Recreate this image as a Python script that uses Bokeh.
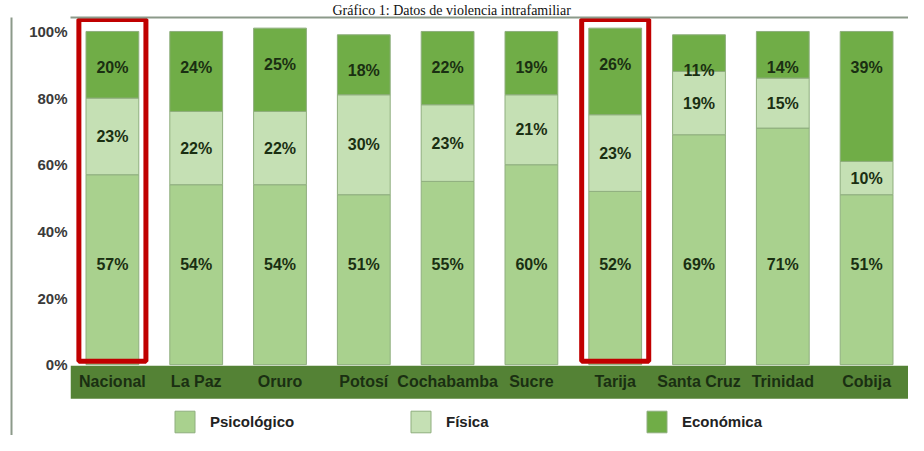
from bokeh.plotting import figure
from bokeh.models import (ColumnDataSource, FactorRange, FixedTicker,
                          BoxAnnotation, LinearAxis, Title)
from bokeh.core.properties import value
from bokeh.embed import file_html
from bokeh.resources import INLINE

# ---------------- data ----------------
categories = ["Nacional", "La Paz", "Oruro", "Potosí", "Cochabamba",
              "Sucre", "Tarija", "Santa Cruz", "Trinidad", "Cobija"]
psicologico = [57, 54, 54, 51, 55, 60, 52, 69, 71, 51]
fisica = [23, 22, 22, 30, 23, 21, 23, 19, 15, 10]
economica = [20, 24, 25, 18, 22, 19, 26, 11, 14, 39]
series_names = ["Psicológico", "Física", "Económica"]
highlighted = ["Nacional", "Tarija"]
y_ticks = [0, 20, 40, 60, 80, 100]
y_tick_labels = ["0%", "20%", "40%", "60%", "80%", "100%"]
title_text = "Gráfico 1: Datos de violencia intrafamiliar"

# ---------------- styles ----------------
FONT = "Liberation Sans"
C_PSI = "#a9d18e"
C_FIS = "#c5e0b4"
C_ECO = "#70ad47"
C_BAND = "#548235"
C_TEXT = "#1a2f12"
C_BORDER = "#8c9a8a"

n = len(categories)
tot = [a + b + c for a, b, c in zip(psicologico, fisica, economica)]
src = ColumnDataSource(dict(
    cat=categories,
    psicologico=psicologico,
    fisica=fisica,
    economica=economica,
    psi_lbl=[f"{v}%" for v in psicologico],
    fis_lbl=[f"{v}%" for v in fisica],
    eco_lbl=[f"{v}%" for v in economica],
    psi_y=[30.2] * n,
    fis_y=[a + b / 2 for a, b in zip(psicologico, fisica)],
    eco_y=[t - 10.8 for t in tot],
    band_y=[-5.1] * n,
))

p = figure(x_range=FactorRange(*categories), y_range=(-21.26, 104.19),
           width=908, height=435, output_backend="svg",
           toolbar_location=None, x_axis_location=None,
           min_border_left=70, min_border_right=0,
           min_border_top=14, min_border_bottom=0)
p.outline_line_color = None
p.grid.visible = False
p.background_fill_color = "white"
p.border_fill_color = "white"

# title (compact, above the chart box)
p.title = Title(text=title_text, align="left", offset=262,
                text_font="Liberation Serif", text_font_style="normal",
                text_font_size="14px", text_color="#111111", standoff=0)

# category band
p.add_layout(BoxAnnotation(bottom=-10.2, top=-0.3, fill_color=C_BAND,
                           fill_alpha=1.0, line_color=None, level="underlay"))

rs = p.vbar_stack(["psicologico", "fisica", "economica"], x="cat", width=0.63,
                  color=[C_PSI, C_FIS, C_ECO], line_color="#8fae7e",
                  line_width=1, source=src, legend_label=series_names)

# segment labels
for col, ycol in (("psi_lbl", "psi_y"), ("fis_lbl", "fis_y"), ("eco_lbl", "eco_y")):
    p.text(x="cat", y=ycol, text=col, source=src, text_align="center",
           text_baseline="middle", text_font=value(FONT),
           text_font_style="bold", text_font_size="16px", text_color=C_TEXT)

# category names in band
p.text(x="cat", y="band_y", text="cat", source=src, text_align="center",
       text_baseline="middle", text_font=value(FONT), text_font_style="bold",
       text_font_size="16px", text_color=C_TEXT)

# highlight boxes
p.vbar(x=highlighted, width=0.8, bottom=1.0, top=103.6, fill_alpha=0,
       line_color="#c00000", line_width=5)

# y axis with labels
ya = p.yaxis[0]
ya.ticker = FixedTicker(ticks=y_ticks)
ya.major_label_overrides = dict(zip(y_ticks, y_tick_labels))
ya.axis_line_color = None
ya.major_tick_line_color = None
ya.minor_tick_line_color = None
ya.major_tick_out = 0
ya.major_tick_in = 0
ya.major_label_standoff = 3
ya.major_label_text_font = FONT
ya.major_label_text_font_style = "bold"
ya.major_label_text_font_size = "15px"
ya.major_label_text_color = "#3a3a3a"
ya.axis_label = " "
ya.axis_label_standoff = 0
ya.axis_label_text_font_size = "11px"

# outer frame lines of the original figure (left and top), drawn as bare axes
for side in ("left", "above"):
    ax = LinearAxis(ticker=FixedTicker(ticks=[]), axis_line_color=C_BORDER,
                    axis_line_width=2, major_tick_line_color=None,
                    minor_tick_line_color=None, major_tick_out=0,
                    major_tick_in=0, major_label_standoff=0,
                    major_label_text_font_size="0px")
    p.add_layout(ax, side)

# legend
lg = p.legend[0]
lg.orientation = "horizontal"
lg.location = (102, 0)
lg.glyph_width = 25
lg.glyph_height = 27
lg.label_standoff = 13
lg.label_width = 182
lg.spacing = 16
lg.padding = 0
lg.margin = 0
lg.border_line_color = None
lg.background_fill_alpha = 0
lg.label_text_font = FONT
lg.label_text_font_style = "bold"
lg.label_text_font_size = "15px"
lg.label_text_color = "#222222"

open("out.html", "w").write(file_html(p, INLINE))
